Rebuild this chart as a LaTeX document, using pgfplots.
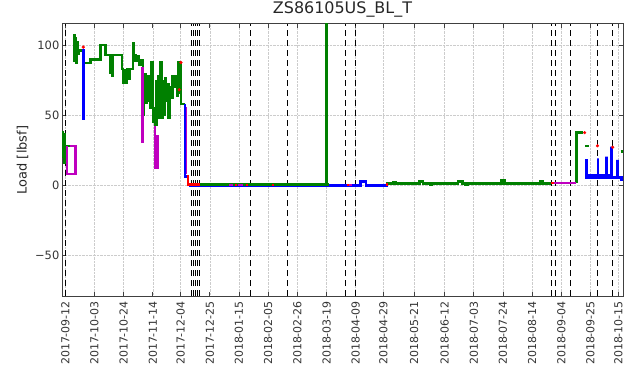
\documentclass[border=0pt]{standalone}
\usepackage{fontspec}
\setmainfont{DejaVu Sans}
\usepackage{pgfplots}
\pgfplotsset{compat=1.18}
\definecolor{mgreen}{rgb}{0,0.5,0}
\definecolor{mblue}{rgb}{0,0,1}
\definecolor{mmag}{rgb}{0.75,0,0.75}
\definecolor{mred}{rgb}{1,0,0}
\begin{document}
\begin{tikzpicture}
\begin{axis}[
  at={(0,0)}, anchor=south west,
  scale only axis, width=561bp, height=272bp,
  xmin=-2.4, xmax=401.4, ymin=-79.3, ymax=115,
  clip=true,
  axis line style={black!75, line width=1bp},
  tick align=inside, major tick length=4bp,
  tick style={black!75, line width=0.8bp},
  xtick={0,21,42,63,83,104,125,146,167,188,209,229,251,273,294,315,336,357,378,398},
  xticklabels={2017-09-12,2017-10-03,2017-10-24,2017-11-14,2017-12-04,2017-12-25,2018-01-15,2018-02-05,2018-02-26,2018-03-19,2018-04-09,2018-04-29,2018-05-21,2018-06-12,2018-07-03,2018-07-24,2018-08-14,2018-09-04,2018-09-25,2018-10-15},
  ytick={-50,0,50,100},
  yticklabels={−50,0,50,100},
  xticklabel style={rotate=90, anchor=east, inner sep=0pt, font=\fontsize{11}{12}\selectfont, text=black!80},
  yticklabel style={inner sep=0pt, font=\fontsize{11.5}{12}\selectfont, text=black!80},
  xticklabel shift=5bp, yticklabel shift=2.5bp,
  grid=major,
  major grid style={densely dotted, gray!40, line width=0.6bp},
  title={ZS86105US\_BL\_T},
  title style={at={(0.5,1)}, anchor=base, yshift=4.7bp, inner sep=0pt, font=\fontsize{16}{18}\selectfont, text=black!85},
  ylabel={Load [lbsf]},
  ylabel style={at={(axis description cs:-0.0704,0.5)}, anchor=center, inner sep=0pt, font=\fontsize{13}{14}\selectfont, text=black!85},
  dashline/.style={black, line width=1bp, dash pattern=on 6bp off 4bp, forget plot},
  ser/.style={line width=2.5bp, forget plot, line join=miter},
]
% vertical dashed event lines
\pgfplotsinvokeforeach{0,90.6,92.0,93.4,94.8,96.3,133.5,160,201.3,209.2,349.9,352.8,363.5,383,394}{
  \addplot[dashline] coordinates {(#1,-79.3)(#1,115)};
}
% blue flat base
\addplot[ser, mblue] coordinates {(89,-0.4)(212.6,-0.4)(212.6,2.4)(216.5,2.4)(216.5,-0.4)(232,-0.4)};
% green segment A
\addplot[ser, mgreen] coordinates {(-2.4,30)(-2.4,38)(-1.8,38)(-1.8,20)(-1.2,20)(-1.2,36)(-0.6,36)(-0.6,16)(0,16)(0,28)(7.2,28)};
% green segment B
\addplot[ser, mgreen] coordinates {
(6.1,88)(6.1,107)(6.6,107)(6.6,92)(7.0,92)(7.0,105)(7.6,105)(7.6,87)(8.1,87)(8.1,102)(8.8,102)(8.8,94)(9.6,94)(9.6,96)(12.6,96)(12.6,87)(18.0,87)(18.0,89.5)(25.2,89.5)(25.2,100)(28.8,100)(28.8,93)(32.4,93)(32.4,80)(33.0,80)(33.0,90)(33.6,90)(33.6,78)(34.4,78)(34.4,93)(40.8,93)(40.8,83)(41.6,83)(41.6,73)(42.4,73)(42.4,82)(43.4,82)(43.4,73)(44.4,73)(44.4,83)(45.5,83)(45.5,76)(46.7,76)(46.7,83)(48.8,83)(48.8,101)(49.5,101)(49.5,93)(50.5,93)(50.5,89)(51.5,89)(51.5,92)(53.0,92)(53.0,86)(54.5,86)(54.5,89)(56.0,89)(56.0,50)(56.8,50)(56.8,79)(57.6,79)(57.6,59)(58.4,59)(58.4,78)(59.2,78)(59.2,60)(60.2,60)(60.2,78)(61.0,78)(61.0,55)(62.0,55)(62.0,88)(62.8,88)(62.8,55)(63.5,55)(63.5,45)(64.5,45)(64.5,43)(65.6,43)(65.6,74)(66.3,74)(66.3,48)(67.0,48)(67.0,78)(67.8,78)(67.8,50)(68.6,50)(68.6,88)(69.3,88)(69.3,48)(70.1,48)(70.1,74)(71.0,74)(71.0,50)(71.8,50)(71.8,76)(72.6,76)(72.6,60)(73.4,60)(73.4,72)(74.3,72)(74.3,48)(75.2,48)(75.2,70)(76.0,70)(76.0,62)(77.0,62)(77.0,78)(78.0,78)(78.0,70)(79.0,70)(79.0,78)(80.3,78)(80.3,64)(81.2,64)(81.2,88)(82.2,88)(82.2,66)(82.8,66)(82.8,87)(83.4,87)(83.4,58)(86.0,58)};
% green flat with spike
\addplot[ser, mgreen] coordinates {(89,0.3)(188.0,0.3)(188.0,130)(188.3,130)(188.3,0.3)(190,0.3)};
% green later
\addplot[ser, mgreen] coordinates {(231,1.2)(236,1.2)(236,2.3)(237.5,2.3)(237.5,1.2)(255,1.2)(255,2.5)(257.5,2.5)(257.5,1.2)(263,1.2)(263,0.3)(264,0.3)(264,1.2)(282.5,1.2)(282.5,2.6)(286,2.6)(286,1.2)(288,1.2)(288,0.3)(289.5,0.3)(289.5,1.2)(314,1.2)(314,3.4)(316,3.4)(316,1.2)(341.5,1.2)(341.5,2.5)(343.6,2.5)(343.6,1.2)(349.5,1.2)};
\addplot[ser, mgreen] coordinates {(367.8,1.5)(367.8,37.4)(372.6,37.4)};
\addplot[ser, mgreen] coordinates {(374.3,28)(376.7,28)};
\addplot[ser, mgreen] coordinates {(399.7,23.8)(401.4,23.8)};
% magenta
\addplot[ser, mmag] coordinates {(1.2,28)(1.2,8)(7.2,8)(7.2,28)(3.5,28)};
\addplot[ser, mmag] coordinates {(55.4,84)(55.4,30)};
\addplot[ser, mmag] coordinates {(64.6,42)(64.6,12)(66.4,12)(66.4,36)};
\addplot[ser, mmag] coordinates {(87.0,56)(87.0,8)};
\addplot[ser, mmag] coordinates {(118,0)(121,0)};
\addplot[ser, mmag] coordinates {(124.5,0)(128,0)};
\addplot[ser, mmag] coordinates {(204,0)(206.5,0)};
\addplot[ser, mmag] coordinates {(350,1.5)(367.8,1.5)};
% blue
\addplot[ser, mblue] coordinates {(13.1,97)(13.1,46.5)};
\addplot[ser, mblue] coordinates {(86.3,58)(86.3,6)(87.6,6)};
\addplot[ser, mblue] coordinates {(375,18.4)(375,5.5)(383.4,5.5)(383.4,19)(383.4,5.5)(389.4,5.5)(389.4,20.2)(389.4,5.5)(393,5.5)(393,27.4)(393,5.5)(397.5,5.5)(397.5,17.9)(397.5,5.5)(400.2,5.5)(400.2,3.6)(402,3.6)};
\addplot[ser, mblue, line width=1.5bp] coordinates {(375,7.2)(392,7.2)};
% red
\addplot[ser, mred] coordinates {(88.4,7)(88.4,0.5)(97,0.5)};
\addplot[ser, mred] coordinates {(122,0)(123.5,0)};
\addplot[ser, mred] coordinates {(130,0)(131.5,0)};
\addplot[ser, mred] coordinates {(149,0)(150.5,0)};
\addplot[ser, mred] coordinates {(202.5,0)(204,0)};
\addplot[ser, mred] coordinates {(230.5,0.5)(232,0.5)};
\addplot[ser, mred] coordinates {(349.5,1.5)(351.5,1.5)};
\addplot[only marks, mark=*, mark size=1.4bp, mred, forget plot] coordinates {(12.9,98.5)(83.2,87.5)(82.0,68)(373.8,37.4)(383,28)(394,27)};
\end{axis}
\path (-62bp,-76bp) rectangle (566bp,296bp);
\end{tikzpicture}
\end{document}
